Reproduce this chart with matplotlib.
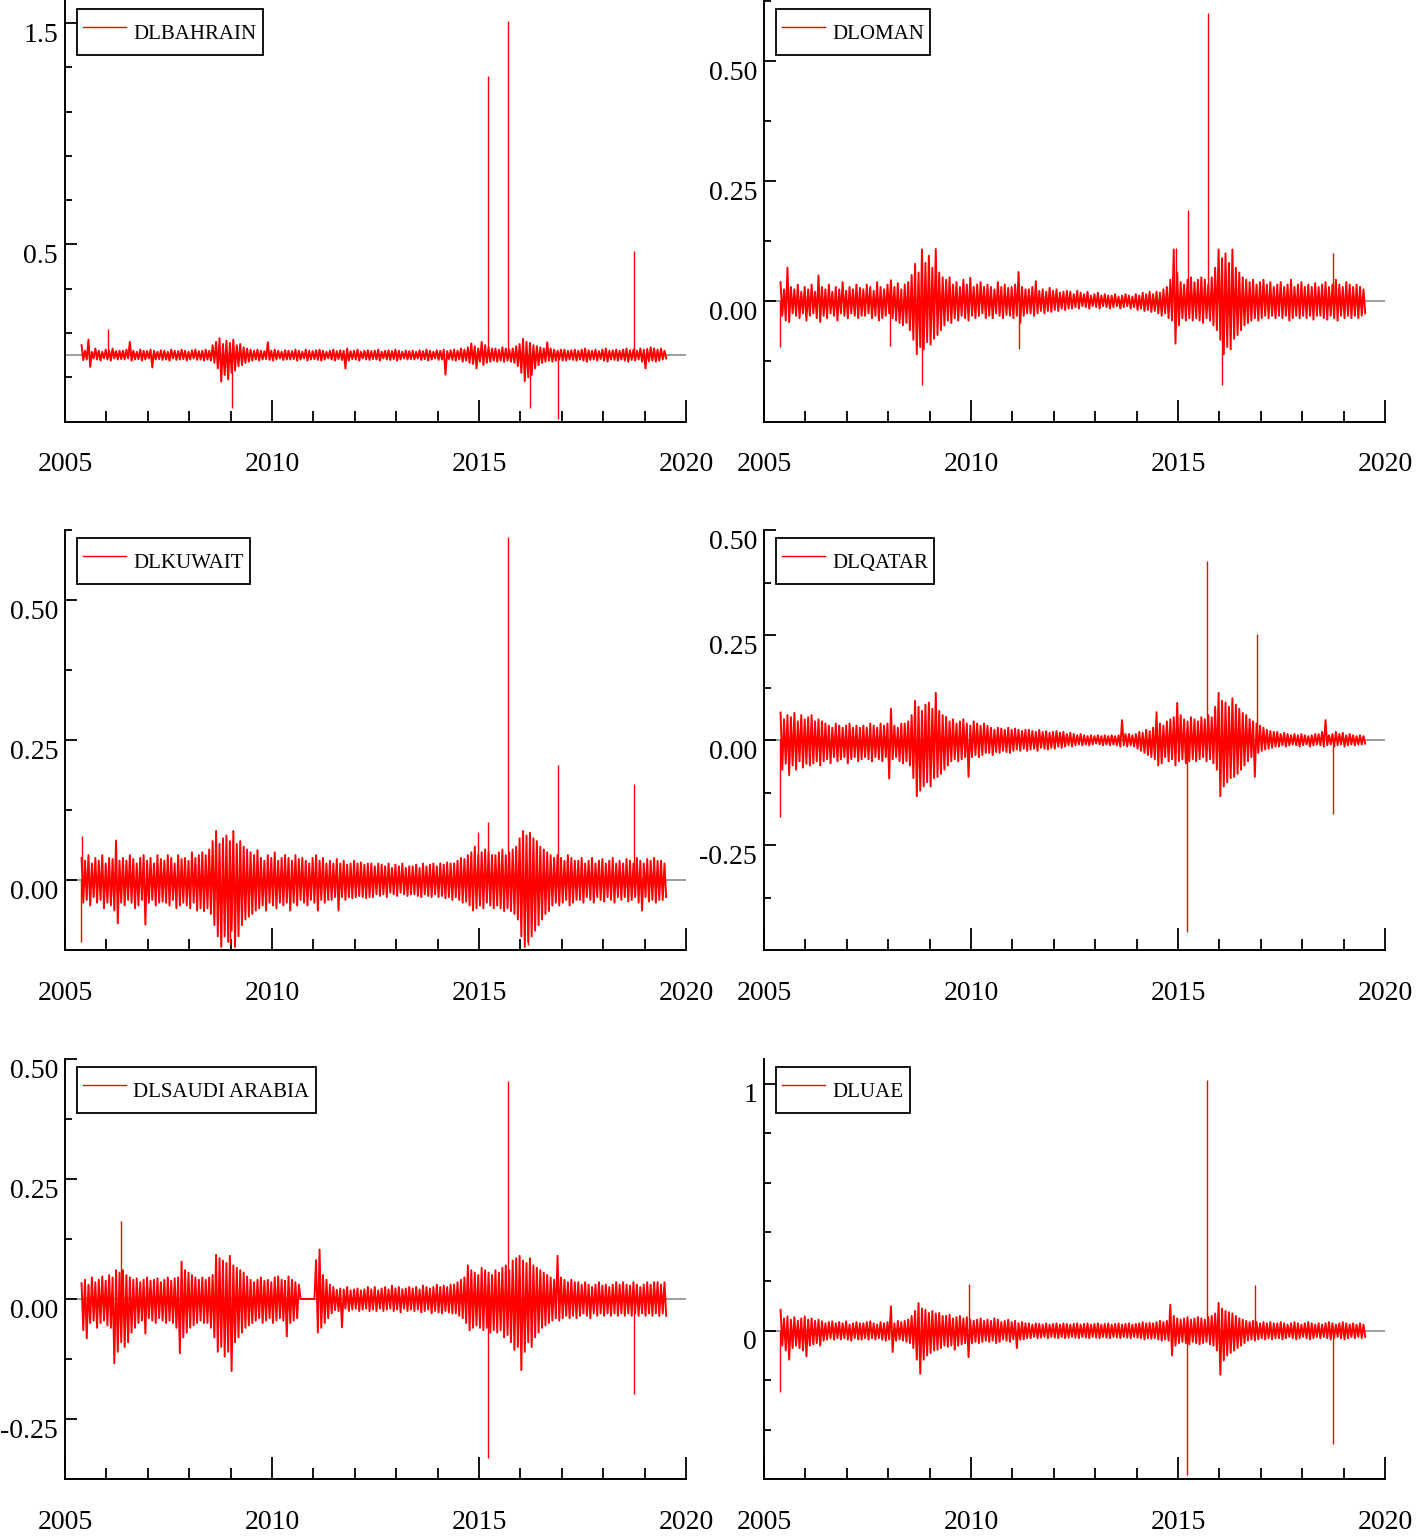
import numpy as np
import matplotlib
matplotlib.use("Agg")
import matplotlib.pyplot as plt
from matplotlib.transforms import ScaledTranslation

plt.rcParams['font.family'] = ['Liberation Serif', 'DejaVu Serif']

# sample span of the daily series (years); swings below are read off the
# picture at about one value per month, in thousandths
T0, T1 = 2005.40, 2019.48

bahrain_up = [
    45, 20, 70, 15, 30, 20, 15, 25, 20, 30, 18, 20,
    20, 25, 60, 20, 15, 25, 20, 18, 25, 20, 15, 22,
    20, 15, 25, 20, 18, 25, 20, 15, 22, 25, 18, 20,
    25, 20, 45, 60, 76, 50, 65, 55, 70, 45, 50, 35,
    30, 25, 20, 25, 20, 18, 58, 20, 25, 20, 15, 22,
    20, 18, 25, 20, 15, 25, 20, 18, 22, 25, 20, 15,
    20, 25, 18, 22, 20, 30, 18, 20, 25, 15, 20, 22,
    18, 20, 25, 15, 20, 22, 18, 25, 20, 15, 20, 18,
    20, 15, 22, 18, 25, 20, 15, 22, 20, 25, 18, 22,
    25, 20, 30, 25, 35, 53, 40, 30, 60, 45, 35, 30,
    30, 25, 35, 30, 25, 30, 40, 50, 73, 60, 55, 45,
    40, 35, 30, 58, 30, 25, 20, 25, 25, 20, 22, 25,
    20, 25, 30, 22, 20, 25, 18, 25, 30, 20, 22, 25,
    20, 25, 30, 22, 25, 20, 30, 25, 28, 35, 30, 25,
    30, 20]
bahrain_lo = [
    -23, -20, -53, -15, -20, -25, -15, -20, -25, -15, -20, -18,
    -20, -15, -25, -20, -18, -25, -20, -15, -56, -20, -18, -22,
    -20, -25, -15, -22, -20, -18, -25, -20, -15, -22, -20, -25,
    -20, -25, -35, -60, -120, -90, -110, -80, -70, -50, -45, -35,
    -30, -25, -20, -25, -20, -18, -22, -25, -20, -15, -22, -20,
    -20, -18, -25, -20, -15, -25, -20, -18, -22, -25, -20, -15,
    -20, -25, -18, -22, -60, -25, -18, -20, -25, -15, -20, -22,
    -18, -20, -25, -15, -20, -22, -18, -25, -20, -15, -20, -18,
    -20, -15, -22, -18, -25, -20, -15, -22, -20, -88, -18, -22,
    -25, -20, -30, -25, -35, -40, -60, -30, -45, -35, -30, -25,
    -30, -25, -30, -25, -30, -35, -50, -80, -118, -100, -90, -60,
    -45, -35, -30, -25, -30, -25, -20, -25, -25, -20, -22, -25,
    -20, -25, -30, -22, -20, -25, -18, -25, -30, -20, -22, -25,
    -20, -25, -30, -22, -25, -20, -30, -60, -28, -25, -30, -25,
    -20, -15]
bahrain_spike_t = [2006.04, 2009.04, 2015.22, 2015.70, 2016.23, 2016.91, 2018.74]
bahrain_spike_v = [0.118, -0.24, 1.26, 1.51, -0.24, -0.29, 0.47]

oman_up = [
    40, 25, 70, 30, 25, 35, 20, 30, 25, 35, 20, 54,
    30, 25, 35, 20, 30, 25, 40, 22, 30, 25, 35, 28,
    25, 35, 30, 22, 40, 30, 25, 35, 44, 30, 38, 25,
    35, 40, 55, 78, 60, 108, 80, 95, 70, 109, 60, 50,
    45, 50, 35, 40, 30, 45, 35, 49, 30, 35, 40, 30,
    35, 30, 25, 40, 30, 35, 28, 30, 35, 61, 30, 25,
    25, 30, 42, 22, 25, 20, 28, 22, 25, 18, 20, 22,
    20, 15, 22, 18, 15, 20, 12, 15, 18, 12, 15, 12,
    12, 15, 10, 12, 15, 12, 10, 15, 12, 18, 15, 20,
    15, 20, 18, 25, 30, 45, 108, 60, 40, 35, 45, 50,
    40, 45, 50, 45, 35, 50, 70, 108, 90, 100, 80, 108,
    70, 60, 50, 45, 40, 45, 35, 40, 45, 35, 40, 30,
    35, 40, 30, 35, 45, 30, 35, 40, 30, 35, 30, 38,
    30, 35, 40, 30, 35, 45, 35, 30, 40, 35, 30, 35,
    30, 25]
oman_lo = [
    -30, -40, -43, -25, -30, -35, -25, -40, -30, -25, -35, -43,
    -30, -35, -25, -30, -40, -25, -30, -35, -25, -30, -35, -30,
    -30, -25, -35, -30, -40, -35, -30, -25, -35, -40, -45, -50,
    -45, -60, -80, -110, -95, -100, -85, -90, -78, -70, -60, -50,
    -40, -45, -35, -40, -30, -35, -40, -30, -35, -30, -25, -35,
    -30, -35, -25, -30, -35, -28, -30, -35, -30, -45, -30, -25,
    -25, -30, -25, -20, -25, -20, -22, -18, -20, -15, -18, -15,
    -15, -12, -15, -10, -12, -15, -10, -12, -15, -10, -12, -15,
    -12, -10, -15, -12, -10, -15, -12, -18, -15, -20, -18, -22,
    -20, -25, -30, -25, -35, -40, -88, -50, -35, -40, -35, -40,
    -35, -40, -45, -35, -40, -50, -60, -80, -110, -95, -100, -78,
    -70, -60, -50, -45, -40, -35, -40, -35, -30, -35, -30, -35,
    -30, -35, -30, -40, -35, -30, -35, -30, -35, -30, -38, -30,
    -30, -35, -38, -30, -35, -40, -30, -35, -30, -35, -30, -35,
    -30, -25]
oman_spike_t = [2005.39, 2008.04, 2008.81, 2011.16, 2014.95, 2015.23, 2015.72, 2016.06, 2018.75]
oman_spike_v = [-0.094, -0.093, -0.175, -0.10, 0.11, 0.19, 0.60, -0.175, 0.10]

kuwait_up = [
    40, 35, 45, 30, 40, 35, 45, 30, 40, 38, 71, 35,
    40, 35, 45, 38, 30, 40, 45, 35, 40, 30, 45, 38,
    35, 45, 40, 30, 45, 38, 40, 35, 50, 40, 45, 50,
    45, 55, 70, 88, 65, 75, 80, 70, 88, 65, 70, 60,
    55, 50, 45, 54, 40, 35, 45, 40, 50, 35, 40, 45,
    40, 35, 45, 38, 40, 35, 30, 40, 45, 35, 40, 30,
    35, 30, 38, 30, 35, 28, 30, 35, 30, 32, 28, 30,
    30, 25, 30, 28, 25, 30, 22, 28, 25, 30, 22, 25,
    25, 28, 22, 30, 25, 28, 30, 25, 30, 28, 32, 30,
    30, 35, 40, 38, 45, 50, 60, 45, 50, 55, 50, 45,
    45, 50, 55, 45, 50, 55, 60, 75, 88, 80, 85, 75,
    70, 60, 55, 50, 45, 40, 45, 40, 35, 45, 40, 35,
    35, 40, 30, 35, 40, 30, 35, 38, 30, 35, 40, 30,
    35, 30, 38, 35, 30, 40, 35, 30, 38, 35, 40, 35,
    35, 30]
kuwait_lo = [
    -40, -35, -45, -30, -40, -35, -50, -40, -45, -54, -77, -40,
    -45, -35, -40, -50, -45, -35, -79, -40, -35, -45, -40, -38,
    -40, -45, -35, -50, -45, -40, -45, -50, -40, -54, -50, -55,
    -50, -60, -80, -100, -119, -100, -110, -90, -119, -100, -80, -70,
    -65, -60, -54, -50, -45, -54, -40, -45, -50, -40, -45, -40,
    -54, -40, -45, -35, -40, -45, -35, -40, -54, -35, -40, -35,
    -35, -30, -54, -30, -35, -30, -32, -30, -28, -30, -32, -30,
    -30, -25, -28, -25, -30, -22, -25, -28, -22, -25, -28, -25,
    -25, -28, -30, -25, -28, -30, -25, -30, -28, -32, -30, -35,
    -30, -35, -40, -38, -45, -54, -50, -45, -50, -40, -45, -50,
    -45, -50, -55, -50, -55, -60, -70, -100, -119, -110, -100, -90,
    -80, -70, -60, -55, -45, -40, -45, -40, -35, -45, -40, -35,
    -35, -40, -30, -35, -40, -30, -35, -38, -30, -35, -40, -30,
    -35, -30, -38, -35, -30, -40, -54, -30, -38, -35, -40, -35,
    -35, -30]
kuwait_spike_t = [2005.39, 2005.40, 2008.99, 2014.98, 2015.22, 2015.70, 2016.19, 2016.90, 2018.74]
kuwait_spike_v = [-0.11, 0.08, -0.115, 0.087, 0.104, 0.613, -0.115, 0.206, 0.172]

qatar_up = [
    66, 50, 60, 55, 65, 45, 60, 50, 55, 60, 45, 50,
    45, 40, 35, 30, 40, 35, 30, 35, 40, 30, 35, 30,
    35, 30, 40, 35, 30, 40, 35, 40, 75, 35, 30, 40,
    40, 45, 60, 94, 80, 70, 85, 90, 75, 113, 70, 60,
    56, 45, 50, 40, 45, 50, 40, 35, 45, 40, 35, 40,
    35, 30, 25, 30, 28, 25, 30, 25, 28, 25, 22, 25,
    25, 22, 20, 25, 20, 22, 18, 20, 22, 18, 20, 15,
    18, 15, 12, 15, 12, 10, 12, 10, 12, 10, 12, 10,
    12, 10, 12, 48, 15, 15, 12, 15, 20, 18, 25, 22,
    30, 67, 40, 35, 45, 50, 55, 89, 60, 50, 45, 55,
    50, 45, 55, 50, 60, 55, 80, 113, 94, 90, 80, 100,
    85, 75, 65, 60, 50, 45, 40, 35, 30, 25, 22, 20,
    20, 15, 18, 15, 12, 15, 12, 15, 12, 10, 12, 15,
    15, 20, 48, 12, 15, 20, 15, 18, 12, 15, 12, 10,
    12, 10]
qatar_lo = [
    -70, -56, -83, -60, -70, -50, -65, -56, -60, -55, -50, -60,
    -50, -45, -55, -40, -50, -45, -40, -55, -45, -40, -50, -45,
    -40, -45, -50, -40, -45, -50, -40, -91, -45, -40, -50, -55,
    -50, -60, -90, -133, -120, -110, -100, -110, -90, -87, -80, -70,
    -60, -50, -45, -50, -45, -40, -87, -40, -35, -40, -35, -30,
    -30, -35, -28, -30, -25, -28, -30, -25, -22, -25, -20, -25,
    -22, -20, -25, -18, -20, -22, -18, -20, -15, -18, -15, -12,
    -15, -12, -10, -12, -10, -12, -10, -8, -10, -12, -10, -12,
    -10, -12, -15, -12, -15, -12, -15, -20, -25, -30, -35, -40,
    -45, -60, -55, -40, -50, -45, -60, -50, -45, -55, -50, -45,
    -50, -45, -40, -50, -45, -55, -70, -133, -110, -100, -90, -87,
    -80, -70, -60, -50, -40, -87, -30, -25, -22, -20, -18, -15,
    -15, -12, -15, -12, -10, -12, -15, -12, -10, -15, -12, -10,
    -12, -15, -12, -10, -15, -12, -10, -15, -12, -10, -12, -10,
    -10, -8]
qatar_spike_t = [2005.39, 2015.22, 2015.71, 2016.91, 2018.74]
qatar_spike_v = [-0.183, -0.456, 0.427, 0.253, -0.175]

saudi_up = [
    33, 40, 30, 45, 35, 40, 47, 38, 50, 45, 60, 55,
    60, 50, 45, 40, 43, 35, 40, 45, 38, 40, 43, 35,
    40, 45, 38, 43, 45, 78, 60, 55, 50, 45, 40, 45,
    40, 45, 50, 92, 85, 80, 75, 90, 70, 65, 60, 55,
    47, 40, 35, 40, 45, 38, 40, 35, 45, 47, 40, 38,
    47, 40, 35, 30, 0, 0, 0, 0, 81, 103, 50, 40,
    30, 25, 19, 22, 20, 25, 18, 20, 22, 18, 20, 25,
    20, 25, 18, 22, 25, 20, 28, 22, 25, 20, 22, 25,
    22, 25, 20, 28, 25, 22, 25, 30, 25, 28, 25, 30,
    30, 35, 40, 45, 70, 60, 55, 50, 65, 60, 55, 50,
    60, 55, 65, 70, 60, 80, 85, 90, 80, 75, 85, 70,
    65, 60, 55, 50, 45, 40, 90, 45, 40, 35, 40, 35,
    35, 30, 35, 30, 25, 30, 35, 28, 30, 25, 30, 35,
    30, 35, 30, 28, 35, 30, 25, 30, 35, 30, 35, 35,
    30, 35]
saudi_lo = [
    -65, -82, -50, -45, -60, -50, -45, -55, -60, -134, -110, -90,
    -100, -90, -70, -60, -50, -45, -72, -40, -45, -50, -40, -45,
    -50, -45, -50, -60, -113, -80, -70, -60, -55, -50, -45, -50,
    -50, -60, -80, -110, -100, -120, -110, -150, -90, -80, -70, -60,
    -55, -50, -45, -40, -50, -45, -40, -50, -45, -40, -45, -78,
    -50, -45, -40, 0, 0, 0, 0, 0, -70, -60, -50, -40,
    -30, -23, -25, -59, -20, -25, -22, -20, -25, -22, -20, -25,
    -22, -25, -20, -25, -22, -20, -25, -22, -28, -20, -25, -22,
    -25, -22, -28, -25, -22, -30, -25, -28, -30, -25, -28, -30,
    -30, -35, -40, -50, -65, -60, -55, -60, -65, -60, -70, -65,
    -70, -65, -80, -75, -90, -106, -100, -148, -110, -90, -100, -80,
    -70, -60, -55, -50, -45, -40, -45, -40, -35, -40, -35, -40,
    -35, -30, -35, -40, -30, -35, -30, -35, -30, -35, -30, -35,
    -30, -35, -30, -35, -30, -35, -30, -35, -30, -35, -30, -35,
    -30, -35]
saudi_spike_t = [2006.35, 2015.22, 2015.70, 2018.74]
saudi_spike_v = [0.163, -0.331, 0.454, -0.198]

uae_up = [
    85, 50, 58, 45, 55, 40, 50, 58, 45, 50, 40, 45,
    38, 30, 35, 38, 30, 35, 30, 38, 25, 30, 35, 30,
    30, 35, 38, 30, 25, 35, 30, 35, 99, 30, 40, 35,
    40, 45, 60, 80, 112, 90, 85, 72, 80, 70, 72, 60,
    60, 65, 50, 55, 60, 50, 55, 45, 40, 45, 50, 40,
    45, 40, 50, 45, 35, 40, 45, 35, 40, 31, 35, 30,
    30, 25, 30, 28, 25, 30, 25, 28, 30, 25, 30, 28,
    25, 28, 30, 25, 28, 30, 25, 28, 30, 25, 28, 30,
    25, 28, 30, 25, 28, 30, 25, 28, 30, 35, 30, 32,
    30, 35, 40, 35, 40, 105, 60, 50, 45, 50, 55, 45,
    50, 55, 50, 45, 55, 60, 70, 113, 90, 80, 75, 70,
    60, 50, 45, 40, 35, 40, 35, 30, 35, 30, 35, 30,
    30, 35, 30, 25, 30, 35, 30, 25, 30, 35, 30, 25,
    30, 25, 30, 35, 30, 25, 30, 35, 30, 25, 30, 25,
    30, 25]
uae_lo = [
    -60, -80, -117, -70, -60, -70, -80, -104, -60, -55, -50, -60,
    -40, -36, -30, -36, -30, -35, -30, -36, -40, -30, -35, -36,
    -30, -36, -30, -35, -30, -36, -40, -35, -86, -40, -35, -40,
    -45, -50, -70, -117, -174, -117, -100, -90, -80, -77, -70, -60,
    -65, -60, -77, -60, -55, -50, -107, -50, -45, -50, -45, -40,
    -45, -40, -50, -45, -35, -40, -45, -35, -70, -36, -35, -30,
    -30, -25, -30, -28, -25, -30, -25, -28, -30, -25, -30, -28,
    -25, -28, -30, -25, -28, -30, -25, -28, -30, -25, -28, -30,
    -25, -28, -30, -25, -28, -30, -25, -28, -30, -35, -30, -32,
    -30, -35, -40, -35, -40, -100, -60, -50, -45, -50, -55, -45,
    -50, -55, -50, -45, -55, -60, -80, -178, -120, -100, -90, -80,
    -70, -60, -50, -40, -35, -40, -35, -30, -35, -30, -35, -30,
    -30, -35, -30, -25, -30, -35, -30, -25, -30, -35, -30, -25,
    -30, -25, -30, -35, -30, -25, -30, -35, -30, -25, -30, -25,
    -30, -25]
uae_spike_t = [2005.39, 2009.94, 2015.22, 2015.71, 2016.86, 2018.74]
uae_spike_v = [-0.246, 0.189, -0.583, 1.016, 0.186, -0.46]


def band_line(up, lo):
    # interleave upper and lower swings in time order
    up = np.asarray(up) / 1000
    lo = np.asarray(lo) / 1000
    t_up = np.linspace(T0, T1, len(up))
    step = (T1 - T0) / (len(lo) - 1)
    t_lo = np.linspace(T0, T1, len(lo)) + step / 2
    t = np.concatenate([t_up, t_lo])
    v = np.concatenate([up, lo])
    order = np.argsort(t, kind='stable')
    return t[order], v[order]


panels = [
    ('DLBAHRAIN', bahrain_up, bahrain_lo, bahrain_spike_t, bahrain_spike_v,
     (-0.3, 1.6), [0.5, 1.5], ['0.5', '1.5'], [-0.1, 0.1, 0.3, 0.7, 0.9, 1.1, 1.3]),
    ('DLOMAN', oman_up, oman_lo, oman_spike_t, oman_spike_v,
     (-0.25, 0.625), [0.0, 0.25, 0.5], ['0.00', '0.25', '0.50'], [-0.125, 0.125, 0.375, 0.625]),
    ('DLKUWAIT', kuwait_up, kuwait_lo, kuwait_spike_t, kuwait_spike_v,
     (-0.125, 0.625), [0.0, 0.25, 0.5], ['0.00', '0.25', '0.50'], [0.125, 0.375, 0.625]),
    ('DLQATAR', qatar_up, qatar_lo, qatar_spike_t, qatar_spike_v,
     (-0.5, 0.5), [-0.25, 0.0, 0.25, 0.5], ['-0.25', '0.00', '0.25', '0.50'],
     [-0.375, -0.125, 0.125, 0.375]),
    ('DLSAUDI ARABIA', saudi_up, saudi_lo, saudi_spike_t, saudi_spike_v,
     (-0.375, 0.5), [-0.25, 0.0, 0.25, 0.5], ['-0.25', '0.00', '0.25', '0.50'],
     [-0.125, 0.125, 0.375]),
    ('DLUAE', uae_up, uae_lo, uae_spike_t, uae_spike_v,
     (-0.6, 1.1), [0, 1], ['0', '1'], [-0.4, -0.2, 0.2, 0.4, 0.6, 0.8]),
]

W, H = 1423, 1536
fig = plt.figure(figsize=(W / 100, H / 100), dpi=100)

col_left = [65, 764]
row_box = [(1, 421.5), (530.3, 950.3), (1059, 1479)]
ax_w = 621

red = '#ff0000'
label_shift = ScaledTranslation(0, -9 / 100, fig.dpi_scale_trans)

for k, (name, up, lo, sp_t, sp_v, ylim, yt, ytl, ymin) in enumerate(panels):
    r, c = divmod(k, 2)
    y_top, y_bot = row_box[r]
    ax = fig.add_axes([col_left[c] / W, 1 - y_bot / H, ax_w / W, (y_bot - y_top) / H])

    ax.axhline(0, color='#8c8c8c', lw=1.2, zorder=1)
    t, v = band_line(up, lo)
    ax.plot(t, v, color=red, lw=1.4, label=name, zorder=2)
    ax.vlines(sp_t, 0, sp_v, color=red, lw=1.0, zorder=2)

    ax.set_xlim(2005, 2020)
    ax.set_ylim(*ylim)
    ax.set_xticks([2005, 2010, 2015, 2020])
    ax.set_xticks(np.arange(2006, 2020), minor=True)
    ax.set_xticklabels(['2005', '2010', '2015', '2020'])
    ax.set_yticks(yt)
    ax.set_yticklabels(ytl)
    ax.set_yticks(ymin, minor=True)

    for s in ['top', 'right']:
        ax.spines[s].set_visible(False)
    for s in ['left', 'bottom']:
        ax.spines[s].set_linewidth(1.4)

    ax.tick_params(axis='both', which='both', direction='in', width=1.3, color='black')
    ax.tick_params(axis='x', which='major', length=15.5, pad=22, labelsize=20)
    ax.tick_params(axis='x', which='minor', length=8)
    ax.tick_params(axis='y', which='major', length=8.5, pad=5, labelsize=20)
    ax.tick_params(axis='y', which='minor', length=5)
    for lab in ax.get_yticklabels():
        lab.set_transform(lab.get_transform() + label_shift)

    leg = ax.legend(loc='upper left', bbox_to_anchor=(12 / ax_w, 1 - 8 / (y_bot - y_top)),
                    borderaxespad=0, fancybox=False, edgecolor='black', framealpha=1,
                    fontsize=15, handlelength=2.05, handleheight=2.1,
                    handletextpad=0.35, borderpad=0.3)
    leg.get_frame().set_linewidth(1.3)
    leg.get_lines()[0].set_linewidth(1.0)

fig.savefig('out.png', dpi=100)
